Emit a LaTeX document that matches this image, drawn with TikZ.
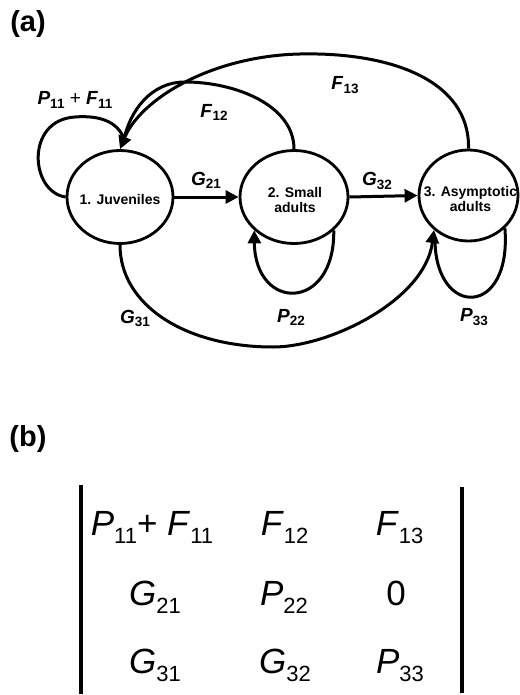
\documentclass[tikz,border=0pt]{standalone}
\usepackage{fontspec}
\setmainfont{Liberation Sans}
\usetikzlibrary{arrows.meta,shapes.geometric,calc}

\newcommand\glab[2]{\textbf{\textit{#1}}\raisebox{-3.5pt}{\fontsize{13.5}{13.5}\selectfont\bfseries #2}}
\newcommand\ment[2]{\textit{#1}\raisebox{-8pt}{\fontsize{22}{22}\selectfont #2}}

\begin{document}
\begin{tikzpicture}[x=1pt,y=-1pt,
  state/.style={draw,ellipse,line width=2.8pt,inner sep=0pt},
  stext/.style={inner sep=0pt,align=center,font=\fontsize{14}{15.5}\selectfont\bfseries},
  conn/.style={line width=3pt},
  arr/.style={conn,-{Triangle[length=13pt,width=13pt]}},
  lab/.style={font=\fontsize{19}{19}\selectfont,inner sep=0pt},
  ent/.style={font=\fontsize{35}{35}\selectfont,inner sep=0pt,anchor=base},
  bar/.style={line width=4pt},
  panel/.style={font=\fontsize{29}{29}\selectfont\bfseries,inner sep=0pt}]
\useasboundingbox[fill=white] (0,0) rectangle (519,695);

% panel labels
\node[panel] (pa) at (28,24) {(a)};
\node[panel] (pb) at (28,439) {(b)};

% states
\node[state,minimum width=106pt,minimum height=93pt] (j) at (120,197) {};
\node[state,minimum width=108pt,minimum height=93pt] (s) at (294,197) {};
\node[state,minimum width=99pt,minimum height=91pt] (a) at (468.5,195.5) {};
\node[stext] (jt) at (120,199) {1. Juveniles};
\node[stext] (st) at (295,200) {2. Small\\adults};
\node[stext] (at) at (470.5,199) {3. Asymptotic\\adults};

% arrow bases
\coordinate (jin) at (124,139);
\coordinate (ain) at ($(a.-135)+(1,11)$);

% connectors
\draw[arr] (j.east) -- (s.west);
\draw[arr] (s.east) -- (a.west);
\draw[conn] (j.west) .. controls (30,192) and (25,120) .. (75,117)
            .. controls (100,115) and (118,122) .. (jin);
\draw[conn] (s.north) .. controls (294,105) and (235,82) .. (185,82)
            .. controls (150,82) and (130,112) .. (jin);
\draw[arr] (a.north) .. controls (470,80) and (390,52) .. (300,54)
           .. controls (210,56) and (140,100) .. (j.north);
\draw[arr] (s.-40) .. controls (335,312) and (255,312) .. (s.-140);
\draw[conn] (a.-42) .. controls (512,318) and (436,318) .. (ain);
\draw[arr] (j.south) .. controls (120,305) and (185,347) .. (273,347)
           .. controls (330,347) and (425,300) .. (a.-135);

% labels
\node[lab] (l11) at (75,100) {\glab{P}{11} + \glab{F}{11}};
\node[lab] (l12) at (214,112.5) {\glab{F}{12}};
\node[lab] (l13) at (345,85) {\glab{F}{13}};
\node[lab] (l21) at (206,180.5) {\glab{G}{21}};
\node[lab] (l32) at (377,181) {\glab{G}{32}};
\node[lab] (l31) at (135,318.5) {\glab{G}{31}};
\node[lab] (l22) at (291,317.5) {\glab{P}{22}};
\node[lab] (l33) at (474,317) {\glab{P}{33}};

% matrix
\coordinate (bl1) at (81,485);
\coordinate (bl2) at (81,694);
\coordinate (br1) at (462,487);
\coordinate (br2) at (462,693);
\draw[bar] (bl1) -- (bl2);
\draw[bar] (br1) -- (br2);
\node[ent] (m11) at (152,535) {\ment{P}{11}+ \ment{F}{11}};
\node[ent] (m12) at (284.5,535) {\ment{F}{12}};
\node[ent] (m13) at (399.5,535) {\ment{F}{13}};
\node[ent] (m21) at (155,605) {\ment{G}{21}};
\node[ent] (m22) at (284,605) {\ment{P}{22}};
\node[ent] (m23) at (396,605) {0};
\node[ent] (m31) at (155,673) {\ment{G}{31}};
\node[ent] (m32) at (285,673) {\ment{G}{32}};
\node[ent] (m33) at (400,673) {\ment{P}{33}};
\end{tikzpicture}
\end{document}
